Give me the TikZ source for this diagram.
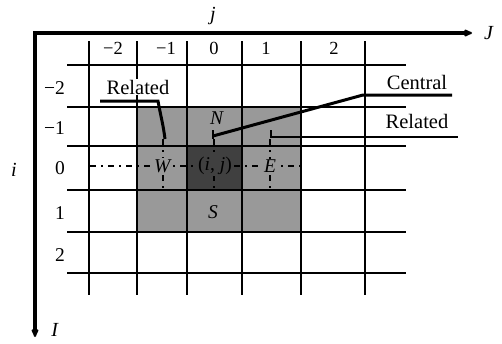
\documentclass[tikz,border=0pt]{standalone}
\usepackage{fontspec}
\setmainfont{Liberation Serif}
\usetikzlibrary{arrows.meta}
\definecolor{cellgray}{gray}{0.6}
\definecolor{centergray}{gray}{0.25}
\tikzset{
	gridline/.style={line width=2.7pt},
	axisline/.style={line width=3.6pt,-{Latex[length=11pt,width=8.5pt,round]}},
	leader/.style={line width=3pt},
	dashline/.style={line width=2pt,dash pattern=on 6pt off 5pt on 2pt off 5pt},
	numlabel/.style={font=\fontsize{18.5}{22}\selectfont,inner sep=1pt},
	rowlabel/.style={font=\fontsize{19.5}{22}\selectfont,inner sep=1pt,anchor=east},
	celllabel/.style={font=\fontsize{19.5}{22}\selectfont,inner sep=1pt},
	tag/.style={font=\fontsize{20.5}{24}\selectfont,fill=white,inner sep=1pt},
}
\begin{document}
\begin{tikzpicture}[x=1pt,y=-1pt]
		\useasboundingbox (0,0) rectangle (502,343);
		% neighbourhood cells
		\fill[cellgray] (137,107) rectangle (301,232);
		\fill[centergray] (187,146) rectangle (242,190);
		% grid
		\foreach \gx in {89,137,187,242,301,365} \draw[gridline] (\gx,41) -- (\gx,295);
		\foreach \gy in {65,107,146,190,232,273} \draw[gridline] (67,\gy) -- (406,\gy);
		
		% axes
		\coordinate (origin) at (33.5,33);
		\coordinate (jend) at (472,33);
		\coordinate (iend) at (35,337);
		\draw[axisline] (33.2,33) -- (jend);
		\draw[axisline] (35,31.2) -- (iend);
		\node (Jlab) at (489,33) {\fontsize{20}{22}\selectfont\textit{J}};
		\node (Ilab) at (55,330) {\fontsize{20}{22}\selectfont\textit{I}};
		\node (jlab) at (213,16) {\fontsize{20}{22}\selectfont\textit{j}};
		\node (ilab) at (14,170) {\fontsize{20}{22}\selectfont\textit{i}};
		
		% indices
		\foreach \cx/\ct [count=\k] in {113/−2,166/−1,214/0,266/1,334/2}
			\node[numlabel] (col\k) at (\cx,48) {\ct};
		\foreach \ry/\rt [count=\k] in {88/−2,128/−1,168/0,213/1,255/2}
			\node[rowlabel] (row\k) at (66,\ry) {\rt};
		
		% dashed cross lines
		\coordinate (dwest) at (90,166);
		\coordinate (deast) at (300,166);
		\draw[dashline] (dwest) -- (deast);
		\foreach \dx in {163,214,270} \draw[dashline] (\dx,139) -- (\dx,188);
		
		% leaders
		\coordinate (relWa) at (100,101);
		\coordinate (relWb) at (158,101);
		\coordinate (relWc) at (165,139);
		\draw[leader] (relWa) -- (relWb) to[out=-80,in=97] (relWc);
		\coordinate (cenA) at (452,95);
		\coordinate (cenB) at (363,95);
		\coordinate (cenC) at (213,136);
		\draw[leader] (cenA) -- (cenB) -- (cenC);
		\draw[gridline] (213,130) -- (213,139);
		\coordinate (relEa) at (271,130);
		\coordinate (relEb) at (271,137);
		\coordinate (relEc) at (458,137);
		\draw[gridline] (relEa) -- (relEb) -- (relEc);
		
		\node[tag] (relW) at (138,87) {Related};
		\node[tag] (cenlab) at (417,82) {Central};
		\node[tag] (relE) at (417,121) {Related};
		
		% cell names
		\node[celllabel] (N) at (217,118) {\textit{N}};
		\node[celllabel,fill=cellgray] (W) at (163,166) {\textit{W}};
		\node[celllabel,fill=centergray] (C) at (215,166) {(\textit{i}, \textit{j})};
		\node[celllabel,fill=cellgray] (E) at (270,166) {\textit{E}};
		\node[celllabel] (S) at (213,212) {\textit{S}};
		\end{tikzpicture}
\end{document}
